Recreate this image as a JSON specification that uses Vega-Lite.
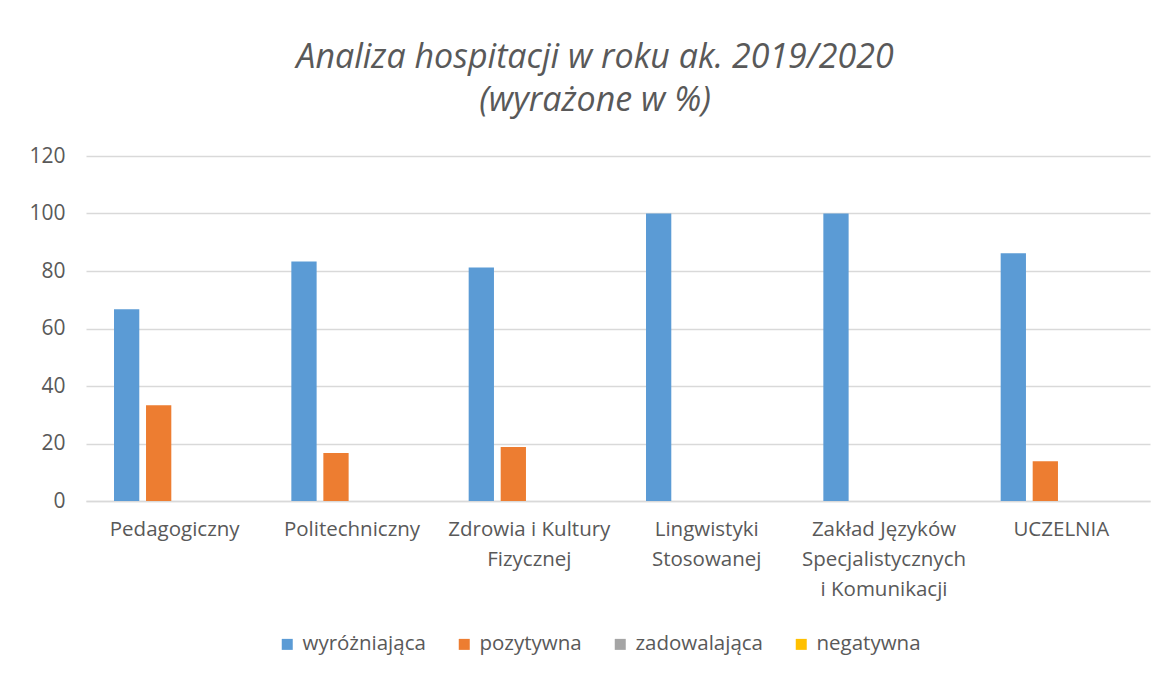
{
  "$schema": "https://vega.github.io/schema/vega-lite/v6.json",
  "width": 1064,
  "height": 345,
  "autosize": {"type": "none"},
  "padding": {"left": 86, "top": 156, "right": 17, "bottom": 173},
  "background": "white",
  "title": {
    "text": ["Analiza hospitacji w roku ak. 2019/2020", "(wyrażone w %)"],
    "font": "Open Sans",
    "fontSize": 34,
    "fontStyle": "italic",
    "fontWeight": "normal",
    "color": "#595959",
    "anchor": "middle",
    "dx": -23,
    "offset": 27,
    "lineHeight": 43
  },
  "data": {
    "values": [
      {"wydzial": "Pedagogiczny", "ocena": "wyróżniająca", "procent": 66.7},
      {"wydzial": "Pedagogiczny", "ocena": "pozytywna", "procent": 33.3},
      {"wydzial": "Pedagogiczny", "ocena": "zadowalająca", "procent": 0},
      {"wydzial": "Pedagogiczny", "ocena": "negatywna", "procent": 0},
      {"wydzial": "Politechniczny", "ocena": "wyróżniająca", "procent": 83.3},
      {"wydzial": "Politechniczny", "ocena": "pozytywna", "procent": 16.7},
      {"wydzial": "Politechniczny", "ocena": "zadowalająca", "procent": 0},
      {"wydzial": "Politechniczny", "ocena": "negatywna", "procent": 0},
      {"wydzial": "Zdrowia i Kultury Fizycznej", "ocena": "wyróżniająca", "procent": 81.25},
      {"wydzial": "Zdrowia i Kultury Fizycznej", "ocena": "pozytywna", "procent": 18.75},
      {"wydzial": "Zdrowia i Kultury Fizycznej", "ocena": "zadowalająca", "procent": 0},
      {"wydzial": "Zdrowia i Kultury Fizycznej", "ocena": "negatywna", "procent": 0},
      {"wydzial": "Lingwistyki Stosowanej", "ocena": "wyróżniająca", "procent": 100},
      {"wydzial": "Lingwistyki Stosowanej", "ocena": "pozytywna", "procent": 0},
      {"wydzial": "Lingwistyki Stosowanej", "ocena": "zadowalająca", "procent": 0},
      {"wydzial": "Lingwistyki Stosowanej", "ocena": "negatywna", "procent": 0},
      {"wydzial": "Zakład Języków Specjalistycznych i Komunikacji", "ocena": "wyróżniająca", "procent": 100},
      {"wydzial": "Zakład Języków Specjalistycznych i Komunikacji", "ocena": "pozytywna", "procent": 0},
      {"wydzial": "Zakład Języków Specjalistycznych i Komunikacji", "ocena": "zadowalająca", "procent": 0},
      {"wydzial": "Zakład Języków Specjalistycznych i Komunikacji", "ocena": "negatywna", "procent": 0},
      {"wydzial": "UCZELNIA", "ocena": "wyróżniająca", "procent": 86.2},
      {"wydzial": "UCZELNIA", "ocena": "pozytywna", "procent": 13.8},
      {"wydzial": "UCZELNIA", "ocena": "zadowalająca", "procent": 0},
      {"wydzial": "UCZELNIA", "ocena": "negatywna", "procent": 0}
    ]
  },
  "mark": {"type": "bar"},
  "encoding": {
    "x": {
      "field": "wydzial",
      "type": "nominal",
      "sort": ["Pedagogiczny", "Politechniczny", "Zdrowia i Kultury Fizycznej", "Lingwistyki Stosowanej", "Zakład Języków Specjalistycznych i Komunikacji", "UCZELNIA"],
      "scale": {"paddingInner": 0, "paddingOuter": 0},
      "axis": {
        "title": null,
        "labelAngle": 0,
        "labelFont": "Open Sans",
        "labelFontSize": 20.5,
        "labelColor": "#595959",
        "labelPadding": 18,
        "labelLineHeight": 30,
        "labelBaseline": "top",
        "labelExpr": "datum.label == 'Zdrowia i Kultury Fizycznej' ? ['Zdrowia i Kultury', 'Fizycznej'] : datum.label == 'Lingwistyki Stosowanej' ? ['Lingwistyki', 'Stosowanej'] : datum.label == 'Zakład Języków Specjalistycznych i Komunikacji' ? ['Zakład Języków', 'Specjalistycznych', 'i Komunikacji'] : datum.label",
        "ticks": false,
        "domainColor": "#D9D9D9",
        "domainWidth": 1.5,
        "grid": false
      }
    },
    "xOffset": {
      "field": "ocena",
      "type": "nominal",
      "sort": ["wyróżniająca", "pozytywna", "zadowalająca", "negatywna"],
      "scale": {"paddingInner": 0.21, "paddingOuter": 0.875}
    },
    "y": {
      "field": "procent",
      "type": "quantitative",
      "scale": {"domain": [0, 120], "nice": false},
      "axis": {
        "title": null,
        "values": [0, 20, 40, 60, 80, 100, 120],
        "labelFont": "Open Sans",
        "labelFontSize": 21,
        "labelColor": "#595959",
        "labelPadding": 21,
        "ticks": false,
        "domain": false,
        "gridColor": "#D9D9D9",
        "gridWidth": 1.5
      }
    },
    "color": {
      "field": "ocena",
      "type": "nominal",
      "scale": {
        "domain": ["wyróżniająca", "pozytywna", "zadowalająca", "negatywna"],
        "range": ["#5B9BD5", "#ED7D31", "#A5A5A5", "#FFC000"]
      },
      "legend": {
        "title": null,
        "orient": "none",
        "legendX": 191,
        "legendY": 478,
        "direction": "horizontal",
        "symbolType": "square",
        "symbolSize": 121,
        "symbolStrokeWidth": 0,
        "labelFont": "Open Sans",
        "labelFontSize": 20.5,
        "labelColor": "#595959",
        "labelOffset": 5,
        "columnPadding": 28
      }
    }
  },
  "config": {
    "view": {"stroke": null}
  }
}
